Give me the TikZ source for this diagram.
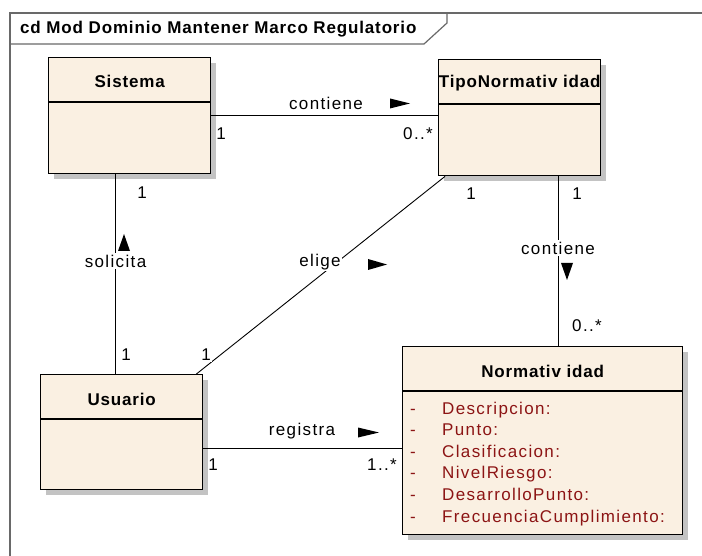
\documentclass[tikz,border=0pt]{standalone}
\usepackage{fontspec}
\setmainfont[LetterSpace=8]{Liberation Sans}
\newfontfamily\headfont[LetterSpace=5]{Liberation Sans}
\usetikzlibrary{shadows,calc}

\definecolor{clsfill}{RGB}{250,240,226}
\definecolor{attrred}{RGB}{140,20,20}
\definecolor{framegray}{RGB}{105,105,105}
\definecolor{shadowgray}{RGB}{195,195,195}

\begin{document}
\begin{tikzpicture}[x=1pt,y=-1pt,
  cls/.style={draw=black, line width=1.4pt, fill=clsfill, anchor=north west, inner sep=0pt,
    drop shadow={shadow xshift=5pt, shadow yshift=-5pt, fill=shadowgray, opacity=1}},
  sep/.style={draw=black, line width=1.4pt},
  clsname/.style={font=\fontsize{17}{20}\headfont\bfseries, inner sep=0pt},
  lbl/.style={font=\fontsize{17}{20}\selectfont, inner sep=0pt},
  onlink/.style={lbl, fill=white, inner sep=1.5pt},
  attr/.style={font=\fontsize{17}{20}\selectfont, text=attrred, inner sep=0pt, anchor=base west},
  link/.style={draw=black, line width=0.9pt},
  dirtip/.style={fill=black},
  frameline/.style={draw=framegray, line width=1.2pt}]

  % canvas
  \fill[white] (0,0) rectangle (702,556);
  \useasboundingbox (0,0) rectangle (702,556);

  % diagram frame with its name tab
  \draw[frameline] (10,556) -- (10,13) -- (702,13);
  \draw[frameline] (10,44) -- (424,44) -- (447,23) -- (447,13);
  \node[clsname, anchor=west] (diagname) at (20,29) {cd Mod Dominio Mantener Marco Regulatorio};

  % classes
  \node[cls, minimum width=162pt, minimum height=116pt] (sis)  at (48,57)  {};
  \node[cls, minimum width=162pt, minimum height=116pt] (tipo) at (438,59) {};
  \node[cls, minimum width=280pt, minimum height=188pt] (norm) at (402,346) {};
  \node[cls, minimum width=162pt, minimum height=115pt] (usu)  at (40,374) {};

  \foreach \c in {sis,tipo,norm,usu}
    \draw[sep] ($(\c.north west)+(0,45)$) -- ($(\c.north east)+(0,45)$);

  \node[clsname] (sisname)  at ($(sis.north)+(0,24)$)  {Sistema};
  \node[clsname] (tiponame) at ($(tipo.north)+(0,24)$) {TipoNormativ idad};
  \node[clsname] (normname) at ($(norm.north)+(0,25)$) {Normativ idad};
  \node[clsname] (usuname)  at ($(usu.north)+(0,25)$)  {Usuario};

  % attributes of Normatividad
  \foreach \t [count=\i from 0] in {Descripcion:,Punto:,Clasificacion:,NivelRiesgo:,DesarrolloPunto:,FrecuenciaCumplimiento:}{
    \node[attr] (vis\i) at (410,414+21.6*\i) {-};
    \node[attr] (att\i) at (442,414+21.6*\i) {\t};
  }

  % associations
  \coordinate (solA) at ($(sis.south west)+(67,0)$);
  \coordinate (contB) at ($(tipo.south west)+(120,0)$);
  \coordinate (regA) at ($(usu.south east)+(0,-42)$);

  \draw[link] (sis.east) -- (sis.east -| tipo.west);
  \draw[link] (solA) -- (solA |- usu.north);
  \draw[link] ($(tipo.south west)+(7,0)$) -- ($(usu.north east)+(-7,0)$);
  \draw[link] (contB) -- (contB |- norm.north);
  \draw[link] (regA) -- (regA -| norm.west);

  % association names
  \node[lbl]    (contA)  at (326,103) {contiene};
  \node[onlink] (solic)  at (115.5,261) {solicita};
  \node[onlink] (elige)  at (320,262) {elige};
  \node[onlink] (contC)  at (558,248) {contiene};
  \node[lbl]    (regis)  at (302,431) {registra};

  % reading direction tips
  \fill[dirtip] (390,98.5) -- (410,103.5) -- (390,108.5) -- cycle;
  \fill[dirtip] (124,234) -- (130,251) -- (118,251) -- cycle;
  \fill[dirtip] (368,259) -- (387,264.5) -- (368,270) -- cycle;
  \fill[dirtip] (561,263) -- (573,263) -- (567,280) -- cycle;
  \fill[dirtip] (358,427.5) -- (379,432.5) -- (358,437.5) -- cycle;

  % multiplicities
  \node[lbl] (m1) at (221,134) {1};
  \node[lbl] (m2) at (418,134) {0..*};
  \node[lbl] (m3) at (142,193) {1};
  \node[lbl] (m4) at (126,355) {1};
  \node[lbl, fill=white, inner sep=1pt] (m5) at (206,355) {1};
  \node[lbl] (m6) at (471,194) {1};
  \node[lbl] (m7) at (577,194) {1};
  \node[lbl] (m8) at (587,326) {0..*};
  \node[lbl] (m9) at (213,465) {1};
  \node[lbl] (m10) at (382,465) {1..*};
\end{tikzpicture}
\end{document}
